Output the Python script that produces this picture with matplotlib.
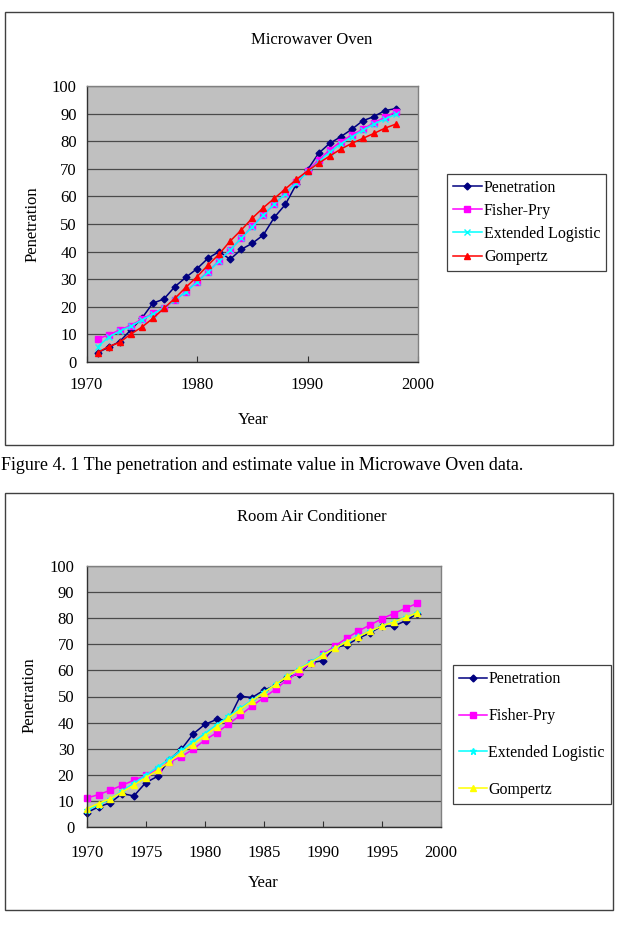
import matplotlib
matplotlib.use("Agg")
import matplotlib.pyplot as plt
from matplotlib.patches import Rectangle

plt.rcParams['font.family'] = ['Liberation Serif', 'DejaVu Serif']

# ---------------- data ----------------
mw_years = list(range(1971, 1999))
mw_penetration = [3.4, 5.3, 7.4, 11.6, 15.8, 21.3, 22.8, 27.3, 30.7, 33.8, 37.6, 40.0, 37.2, 40.8,
                  43.0, 46.0, 52.4, 57.1, 64.5, 69.6, 75.6, 79.2, 81.6, 84.3, 87.4, 88.9, 91.1, 91.8]
mw_fisher_pry = [8.4, 9.8, 11.6, 13.2, 15.5, 17.6, 19.4, 22.5, 25.5, 29.1, 32.7, 36.7, 40.6, 44.8,
                 49.2, 53.3, 57.2, 61.1, 65.3, 69.3, 73.2, 76.8, 79.8, 82.2, 84.3, 86.7, 88.6, 90.7]
mw_ext_logistic = [5.5, 9.0, 11.2, 12.9, 15.2, 17.4, 19.6, 22.4, 25.4, 28.9, 32.6, 36.6, 40.6, 44.8,
                   49.0, 53.2, 57.2, 61.0, 65.0, 68.8, 72.5, 76.0, 79.0, 81.6, 84.0, 86.2, 88.0, 89.8]
mw_gompertz = [3.4, 5.6, 7.1, 10.1, 12.6, 15.8, 19.4, 23.1, 27.1, 30.9, 35.1, 39.1, 43.8, 47.8,
               52.1, 55.9, 59.3, 62.7, 66.2, 69.2, 72.0, 74.6, 77.1, 79.2, 81.0, 82.8, 84.7, 86.2]

ac_years = list(range(1970, 1999))
ac_penetration = [5.5, 7.7, 9.3, 12.8, 11.9, 17.0, 19.4, 25.8, 29.7, 35.6, 39.3, 41.2, 41.0, 50.1,
                  49.6, 52.4, 54.3, 57.3, 58.8, 63.0, 63.7, 68.8, 69.7, 72.3, 74.4, 77.0, 77.0, 79.0, 81.8]
ac_fisher_pry = [11.1, 12.4, 14.1, 16.0, 17.9, 19.8, 22.0, 24.9, 26.9, 29.8, 33.3, 36.1, 39.4, 42.8,
                 46.4, 49.6, 52.8, 56.5, 59.5, 63.0, 66.1, 69.3, 72.3, 75.1, 77.4, 79.8, 81.8, 83.8, 85.7]
ac_ext_logistic = [6.5, 8.5, 10.8, 13.8, 16.8, 19.8, 23.0, 26.0, 29.4, 32.6, 35.8, 39.2, 42.4, 45.5,
                   48.6, 51.7, 54.7, 57.8, 60.7, 63.4, 66.1, 68.6, 71.0, 73.1, 75.1, 77.0, 78.7, 80.4, 82.0]
ac_gompertz = [7.0, 9.0, 10.9, 13.4, 16.0, 18.9, 21.7, 24.9, 28.4, 31.6, 34.9, 38.4, 41.8, 45.0,
               48.3, 51.5, 54.6, 57.8, 60.7, 63.0, 65.9, 68.4, 71.0, 72.9, 75.1, 77.0, 78.6, 80.3, 82.1]

series_names = ["Penetration", "Fisher-Pry", "Extended Logistic", "Gompertz"]
y_ticks = list(range(0, 101, 10))
mw_xticks = [1970, 1980, 1990, 2000]
ac_xticks = [1970, 1975, 1980, 1985, 1990, 1995, 2000]

# ---------------- layout helpers ----------------
W, H = 619, 925
fig = plt.figure(figsize=(W / 100, H / 100), dpi=100)
fig.patch.set_facecolor('white')

FS = 12  # general text size


def fx(px):
    return px / W


def fy(py):
    return 1 - py / H


def frame(x0, y0, x1, y1):
    fig.patches.append(Rectangle((fx(x0), fy(y1)), fx(x1) - fx(x0), fy(y0) - fy(y1),
                                 transform=fig.transFigure, fill=False,
                                 edgecolor='#404040', linewidth=1.0))


def make_axes(x0, y0, x1, y1, xticks, ypad, xpad):
    ax = fig.add_axes([fx(x0), fy(y1), fx(x1) - fx(x0), fy(y0) - fy(y1)])
    ax.set_facecolor('#C0C0C0')
    ax.set_xlim(xticks[0], xticks[-1])
    ax.set_ylim(0, 100)
    ax.set_xticks(xticks)
    ax.set_yticks(y_ticks)
    ax.grid(axis='y', color='#4a4a4a', linewidth=0.9)
    ax.set_axisbelow(True)
    for s in ['top', 'right']:
        ax.spines[s].set_color('#808080')
        ax.spines[s].set_linewidth(1.0)
    for s in ['left', 'bottom']:
        ax.spines[s].set_color('#303030')
        ax.spines[s].set_linewidth(1.0)
    ax.tick_params(axis='y', length=0, pad=ypad, labelsize=FS)
    ax.tick_params(axis='x', direction='in', length=4, width=0.8, color='#303030',
                   pad=xpad, labelsize=FS)
    return ax


def draw_series(ax, years, vals, colors, markers, msizes):
    handles = []
    for v, c, m, ms, name in zip(vals, colors, markers, msizes, series_names):
        h, = ax.plot(years, v, color=c, marker=m, markersize=ms, linewidth=1.1,
                     markeredgewidth=1.0, label=name, clip_on=False)
        handles.append(h)
    return handles


# ---------------- top chart ----------------
frame(5, 12, 613, 445)
ax1 = make_axes(86.5, 86, 418, 362, mw_xticks, ypad=7, xpad=11)
h1 = draw_series(ax1, mw_years,
                 [mw_penetration, mw_fisher_pry, mw_ext_logistic, mw_gompertz],
                 ['#000080', '#FF00FF', '#00FFFF', '#FF0000'],
                 ['D', 's', 'x', '^'], [3.5, 4, 4.5, 5])
fig.text(fx(312), fy(40), "Microwaver Oven", ha='center', va='center', fontsize=FS)
fig.text(fx(33), fy(224), "Penetration", ha='center', va='center', rotation=90, fontsize=FS)
fig.text(fx(253), fy(420), "Year", ha='center', va='center', fontsize=FS)
leg1 = fig.legend(handles=h1, loc='upper left', bbox_to_anchor=(fx(447), fy(174)),
                  bbox_transform=fig.transFigure, fontsize=11.5, frameon=True,
                  fancybox=False, edgecolor='#404040', framealpha=1, borderpad=0.35,
                  labelspacing=0.45, handlelength=1.85, handletextpad=0.12, borderaxespad=0)
leg1.get_frame().set_linewidth(0.9)

# ---------------- caption ----------------
fig.text(fx(1), fy(466), "Figure 4. 1 The penetration and estimate value in Microwave Oven data.",
         ha='left', va='center', fontsize=13)

# ---------------- bottom chart ----------------
frame(5, 493, 613, 910)
ax2 = make_axes(86.7, 566, 441, 827, ac_xticks, ypad=9, xpad=13)
h2 = draw_series(ax2, ac_years,
                 [ac_penetration, ac_fisher_pry, ac_ext_logistic, ac_gompertz],
                 ['#000080', '#FF00FF', '#00FFFF', '#FFFF00'],
                 ['D', 's', '*', '^'], [3.5, 4, 5, 5])
fig.text(fx(312), fy(517), "Room Air Conditioner", ha='center', va='center', fontsize=FS)
fig.text(fx(30), fy(695), "Penetration", ha='center', va='center', rotation=90, fontsize=FS)
fig.text(fx(263), fy(883), "Year", ha='center', va='center', fontsize=FS)
leg2 = fig.legend(handles=h2, loc='upper left', bbox_to_anchor=(fx(453), fy(665)),
                  bbox_transform=fig.transFigure, fontsize=11.5, frameon=True,
                  fancybox=False, edgecolor='#404040', framealpha=1, borderpad=0.4,
                  labelspacing=1.3, handlelength=1.7, handletextpad=0.1, borderaxespad=0)
leg2.get_frame().set_linewidth(0.9)

fig.savefig("out.png", dpi=100)
